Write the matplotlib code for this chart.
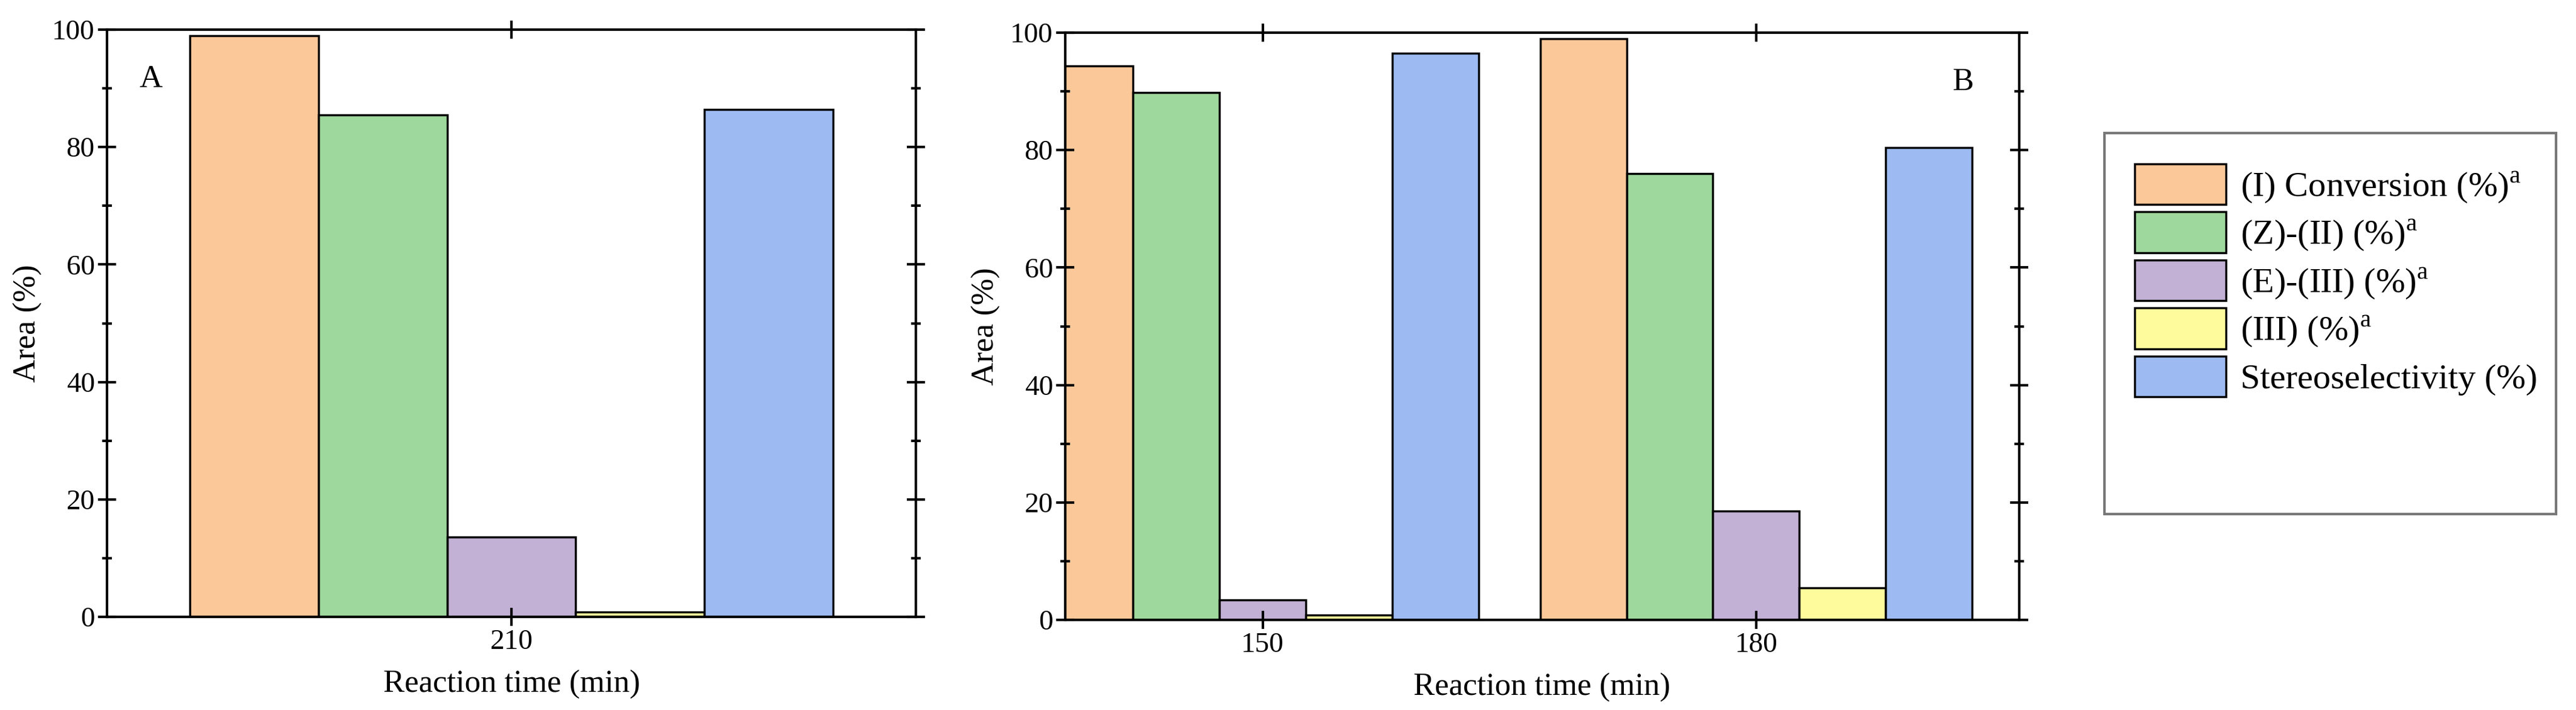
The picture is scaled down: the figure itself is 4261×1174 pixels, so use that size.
import matplotlib
matplotlib.use("Agg")
import matplotlib.pyplot as plt
import numpy as np
from matplotlib.ticker import MultipleLocator
from matplotlib.patches import Rectangle

plt.rcParams['font.family'] = ['Liberation Serif', 'DejaVu Serif']
plt.rcParams['mathtext.fontset'] = 'custom'
plt.rcParams['mathtext.rm'] = 'Liberation Serif'

series = ["(I) Conversion (%)$^{\\rm a}$", "(Z)-(II) (%)$^{\\rm a}$", "(E)-(III) (%)$^{\\rm a}$",
          "(III) (%)$^{\\rm a}$", "Stereoselectivity (%)"]
colors = ["#fbc899", "#9fd89c", "#c2b1d5", "#fdfb9c", "#9dbbf2"]

times_a = ["210"]
values_a = [[99.0], [85.5], [13.6], [0.8], [86.4]]

times_b = ["150", "180"]
values_b = [[94.3, 99.0], [89.8, 76.0], [3.4, 18.5], [0.8, 5.5], [96.5, 80.4]]

W, H = 4261, 1174
fig = plt.figure(figsize=(W / 100, H / 100), dpi=100)
axA = fig.add_axes([177/W, 1-1020/H, (1515-177)/W, (1020-49)/H])
axB = fig.add_axes([1762/W, 1-1025/H, (3340-1762)/W, (1025-54)/H])


def draw(ax, times, values, width, xlim, label, lx, ly):
    x = np.arange(len(times))
    n = len(values)
    for i, vals in enumerate(values):
        ax.bar(x + (i - (n - 1) / 2) * width, vals, width, color=colors[i],
               edgecolor="black", linewidth=2.5, label=series[i])
    ax.set_xticks(x)
    ax.set_xticklabels(times)
    ax.set_xlim(*xlim)
    ax.set_ylim(0, 100)
    ax.yaxis.set_major_locator(MultipleLocator(20))
    ax.yaxis.set_minor_locator(MultipleLocator(10))
    ax.tick_params(which="both", direction="inout", top=True, right=True,
                   width=3, labelsize=34)
    ax.tick_params(which="major", length=22)
    ax.tick_params(which="minor", length=12)
    for s in ax.spines.values():
        s.set_linewidth(3)
    ax.set_xlabel("Reaction time (min)", fontsize=38, labelpad=18)
    ax.set_ylabel("Area (%)", fontsize=38, labelpad=12)
    ax.text(lx, ly, label, transform=ax.transAxes, fontsize=38, va="top")


draw(axA, times_a, values_a, 0.318, (-1.0, 1.0), "A", 0.04, 0.94)
draw(axB, times_b, values_b, 0.175, (-0.4, 1.533), "B", 0.93, 0.94)

# legend frame has extra blank room below the entries
fig.patches.append(Rectangle((3481/W, 1-850/H), (4228-3481)/W, (850-220)/H,
                             transform=fig.transFigure, fill=False,
                             edgecolor="#777777", linewidth=3))
handles, labels = axB.get_legend_handles_labels()
fig.legend(handles, labels, loc="upper left", bbox_to_anchor=(3490/W, 1-230/H),
           fontsize=42, frameon=False, handlelength=2.6, handleheight=1.4,
           borderpad=0.2, labelspacing=0.2, handletextpad=0.4)

fig.savefig("out.png", dpi=100, facecolor="white")
